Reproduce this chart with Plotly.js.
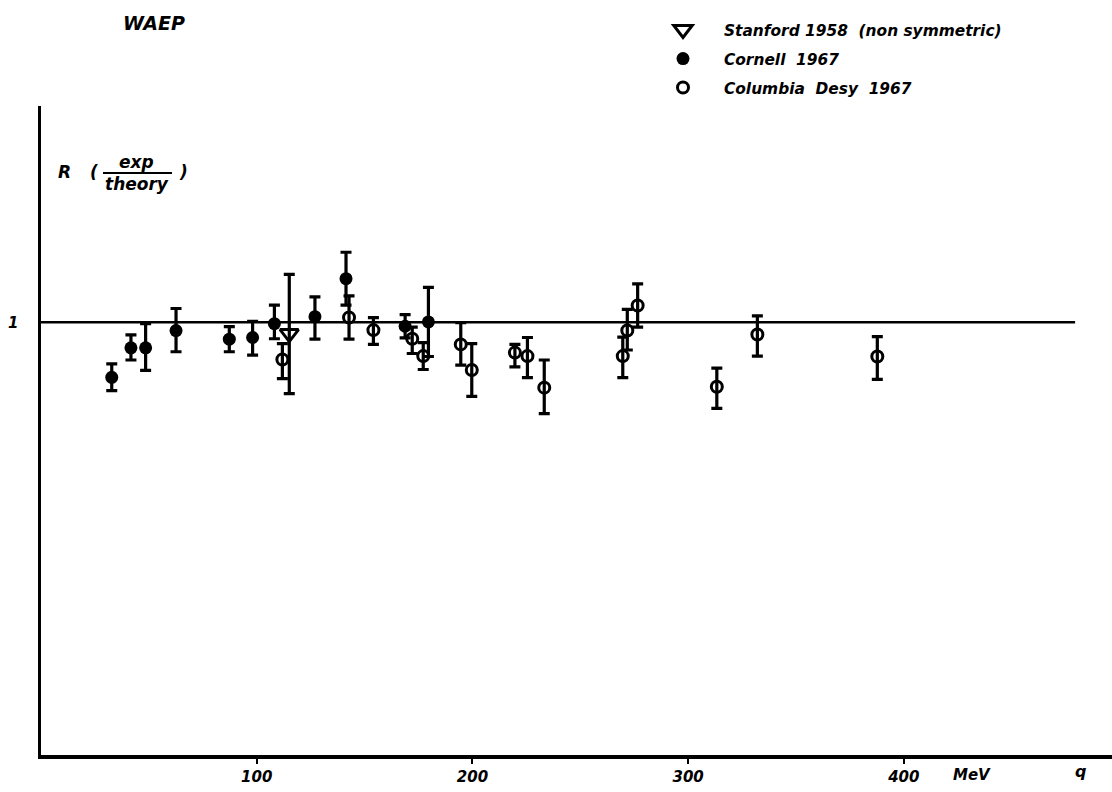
<!DOCTYPE html>
<html>
<head>
<meta charset="utf-8">
<script src="https://cdn.plot.ly/plotly-3.0.1.min.js"></script>
<style>html,body{margin:0;padding:0;background:#fff;}#chart{width:1112px;height:792px;}</style>
</head>
<body>
<div id="chart"></div>
<script>
// Stanford 1958 (non symmetric)
const stanfordQ = [115.1];
const stanfordR = [0.974];
const stanfordErrPlus = [0.137];
const stanfordErrMinus = [0.139];

// Cornell 1967
const cornellQ = [32.8, 41.7, 48.5, 62.6, 87.3, 98.1, 108.2, 127.0, 141.4, 168.8, 179.6];
const cornellR = [0.873, 0.941, 0.941, 0.981, 0.961, 0.965, 0.997, 1.013, 1.101, 0.991, 1.001];
const cornellErrPlus = [0.031, 0.030, 0.056, 0.051, 0.029, 0.037, 0.043, 0.046, 0.061, 0.027, 0.080];
const cornellErrMinus = [0.031, 0.028, 0.052, 0.049, 0.029, 0.041, 0.035, 0.052, 0.061, 0.027, 0.080];

// Columbia Desy 1967
const columbiaQ = [111.9, 142.8, 154.1, 172.1, 177.2, 194.6, 199.7, 219.7, 225.5, 233.3, 269.7, 271.8, 276.6, 313.3, 332.1, 387.7];
const columbiaR = [0.914, 1.011, 0.982, 0.962, 0.922, 0.949, 0.890, 0.930, 0.922, 0.849, 0.922, 0.981, 1.039, 0.851, 0.972, 0.921];
const columbiaErrPlus = [0.037, 0.050, 0.029, 0.027, 0.031, 0.050, 0.061, 0.019, 0.043, 0.064, 0.044, 0.049, 0.050, 0.043, 0.043, 0.046];
const columbiaErrMinus = [0.044, 0.050, 0.033, 0.034, 0.031, 0.048, 0.061, 0.033, 0.050, 0.060, 0.050, 0.045, 0.050, 0.050, 0.050, 0.053];

const xTickVals = [100, 200, 300, 400];
const xTickText = ['100', '200', '300', '400'];
const yTickVals = [1];
const yTickText = ['1'];
const refValue = 1;
const refLineEnd = 479.4;

const fontFam = 'DejaVu Sans, sans-serif';
function bf(size) { return {family: fontFam, size: size, color: '#000', weight: 'bold', style: 'italic'}; }
const baseFont = bf(17);

function errBar(plus, minus) {
  return {type: 'data', symmetric: false, array: plus, arrayminus: minus,
          color: '#000', thickness: 3.2, width: 5.5};
}

const traces = [
  {name: 'Stanford 1958  (non symmetric)', x: stanfordQ, y: stanfordR, type: 'scatter', mode: 'markers',
   legendgroup: 'a',
   marker: {symbol: 'triangle-down-open', size: 16, color: '#000', line: {width: 3, color: '#000'}},
   error_y: errBar(stanfordErrPlus, stanfordErrMinus)},
  {name: 'Cornell  1967', x: cornellQ, y: cornellR, type: 'scatter', mode: 'markers',
   legendgroup: 'b',
   marker: {symbol: 'circle', size: 13, color: '#000', line: {width: 0}},
   error_y: errBar(cornellErrPlus, cornellErrMinus)},
  {name: 'Columbia  Desy  1967', x: columbiaQ, y: columbiaR, type: 'scatter', mode: 'markers',
   legendgroup: 'c',
   marker: {symbol: 'circle-open', size: 11, color: '#000', line: {width: 3, color: '#000'}},
   error_y: errBar(columbiaErrPlus, columbiaErrMinus)}
];

const layout = {
  width: 1112, height: 792,
  margin: {l: 41, r: 0, t: 106, b: 37, pad: 0},
  paper_bgcolor: '#fff', plot_bgcolor: '#fff',
  showlegend: true,
  legend: {x: (642 - 41) / 1071, xanchor: 'left', y: 1 + (106 - 13) / 649, yanchor: 'top',
           xref: 'paper', yref: 'paper',
           font: bf(15.4), itemwidth: 72, traceorder: 'grouped', tracegroupgap: 6,
           bgcolor: 'rgba(0,0,0,0)', borderwidth: 0},
  title: {text: 'WAEP', x: 154 / 1112, xanchor: 'center', xref: 'container',
          y: 1 - 23 / 792, yanchor: 'middle', yref: 'container',
          font: bf(19)},
  xaxis: {range: [0, 496.5], showgrid: false, zeroline: false,
          showline: true, linecolor: '#000', linewidth: 3.5,
          tickvals: xTickVals, ticktext: xTickText, ticks: 'outside', ticklen: 5,
          tickwidth: 2, tickcolor: '#000', ticklabelstandoff: 0,
          tickfont: bf(15)},
  yaxis: {range: [0, 1.5], showgrid: false, zeroline: false,
          showline: true, linecolor: '#000', linewidth: 3.5,
          tickvals: yTickVals, ticktext: yTickText, ticks: '', ticklabelstandoff: 16,
          tickfont: bf(15)},
  shapes: [
    {type: 'line', xref: 'x', yref: 'y', x0: 0, x1: refLineEnd, y0: refValue, y1: refValue,
     line: {color: '#000', width: 2.5}, layer: 'below'},
    {type: 'line', xref: 'paper', yref: 'paper',
     x0: (103 - 41) / 1071, x1: (172 - 41) / 1071,
     y0: (755 - 173) / 649, y1: (755 - 173) / 649,
     line: {color: '#000', width: 1.8}}
  ],
  annotations: [
    {text: 'R', xref: 'paper', yref: 'paper', x: (64 - 41) / 1071, y: (755 - 172) / 649,
     xanchor: 'center', yanchor: 'middle', showarrow: false, font: baseFont},
    {text: '(', xref: 'paper', yref: 'paper', x: (94 - 41) / 1071, y: (755 - 172) / 649,
     xanchor: 'center', yanchor: 'middle', showarrow: false, font: baseFont},
    {text: 'exp', xref: 'paper', yref: 'paper', x: (136 - 41) / 1071, y: (755 - 162) / 649,
     xanchor: 'center', yanchor: 'middle', showarrow: false, font: baseFont},
    {text: 'theory', xref: 'paper', yref: 'paper', x: (137 - 41) / 1071, y: (755 - 184) / 649,
     xanchor: 'center', yanchor: 'middle', showarrow: false, font: baseFont},
    {text: ')', xref: 'paper', yref: 'paper', x: (183 - 41) / 1071, y: (755 - 172) / 649,
     xanchor: 'center', yanchor: 'middle', showarrow: false, font: baseFont},
    {text: 'MeV', xref: 'paper', yref: 'paper', x: (972 - 41) / 1071, y: -(775 - 755) / 649,
     xanchor: 'center', yanchor: 'middle', showarrow: false, font: bf(15)},
    {text: 'q', xref: 'paper', yref: 'paper', x: (1080 - 41) / 1071, y: -(771 - 755) / 649,
     xanchor: 'center', yanchor: 'middle', showarrow: false, font: bf(16)}
  ]
};

Plotly.newPlot('chart', traces, layout, {displayModeBar: false, staticPlot: true});
</script>
</body>
</html>
